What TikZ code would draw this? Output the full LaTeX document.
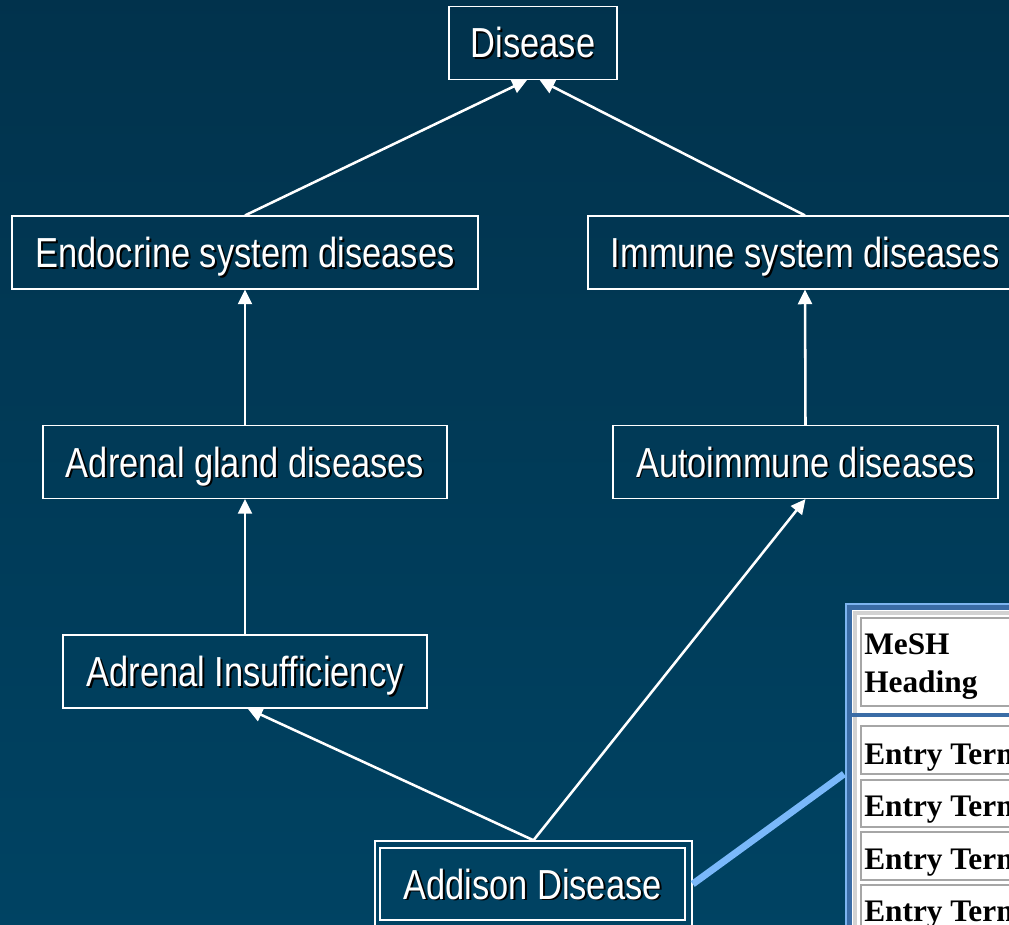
\documentclass[tikz,border=0pt]{standalone}
\usepackage{fontspec}
\usetikzlibrary{arrows.meta}
\newfontfamily\boxfont[FakeStretch=0.82]{Liberation Sans}
\newfontfamily\tblfont{Liberation Serif}
\definecolor{bgtop}{HTML}{012A41}
\definecolor{bgbot}{HTML}{004B6E}
\definecolor{linkblue}{HTML}{7AB8FA}
\definecolor{framemid}{HTML}{3A6CA6}
\definecolor{framelight}{HTML}{7CB4F0}
\definecolor{cellgray}{HTML}{A6A6A6}
\definecolor{tablegray}{HTML}{D2D2D2}
\pgfdeclareverticalshading{slidebg}{100bp}{color(0bp)=(bgbot); color(100bp)=(bgtop)}
% white label with a small black drop shadow behind it
\newcommand\dropshadow[1]{\leavevmode\rlap{\kern1.4pt\raisebox{-1.4pt}{\textcolor{black}{#1}}}#1}

\begin{document}
\begin{tikzpicture}[x=0.75pt,y=-0.75pt,
  topic/.style={draw=white, line width=1.1pt, text=white,
    font=\boxfont\fontsize{31.5}{36}\selectfont, inner sep=0pt,
    text height=22.5pt, text depth=0pt, minimum height=54.5pt},
  up/.style={draw=white, line width=1.9pt, -{Triangle[width=10.5pt,length=11pt]}},
  link/.style={draw=linkblue, line width=5.2pt},
  cell/.style={draw=cellgray, line width=1.5pt},
  entry/.style={anchor=base west, inner sep=0pt, text=black,
    font=\tblfont\bfseries\fontsize{23.5}{28}\selectfont}]

\useasboundingbox (0,0) rectangle (1009,924);
\clip (0,0) rectangle (1009,924);
\shade[shading=slidebg] (0,0) rectangle (1009,924);

% hierarchy boxes
\node[topic, minimum width=126pt]    (dis)  at (533,43)    {\dropshadow{Disease}};
\node[topic, minimum width=349.5pt]  (endo) at (245,252.5) {\dropshadow{Endocrine system diseases}};
\node[topic, minimum width=325.5pt]  (imm)  at (805,252.5) {\dropshadow{Immune system diseases}};
\node[topic, minimum width=303pt]    (agl)  at (245,462)   {\dropshadow{Adrenal gland diseases}};
\node[topic, minimum width=288.75pt] (aut)  at (805.5,462) {\dropshadow{Autoimmune diseases}};
\node[topic, minimum width=273pt]    (ains) at (245,671.5) {\dropshadow{Adrenal Insufficiency}};
\node[draw=white, line width=1.1pt, inner sep=0pt, minimum width=237.75pt,
      minimum height=64.5pt] (addo) at (533.5,884) {};
\node[topic, minimum width=228.75pt, minimum height=54pt] (add) at (532.5,884)
      {\dropshadow{Addison Disease}};

% is-a arrows
\draw[up] (endo.north) -- ([xshift=-4.5pt]dis.south);
\draw[up] (imm.north)  -- ([xshift=5pt]dis.south);
\draw[up] (agl.north)  -- (endo.south);
\draw[up] (aut.north)  -- (imm.south);
\draw[up] (ains.north) -- (agl.south);
\draw[up] (addo.north) -- ([xshift=2pt]ains.south);
\draw[up] (addo.north) -- (aut.south);

% record table
\node[draw=framemid, fill=white, line width=4.5pt, inner sep=0pt, anchor=north west,
      minimum width=150pt, minimum height=300pt] (tbl) at (846,604) {};
\draw[framelight, line width=1.5pt] (tbl.north west) rectangle (tbl.south east);
\draw[tablegray, line width=2.5pt] (855,613) rectangle (1040,1000);
\draw[cell] (861,618) rectangle (1040,706);
\draw[framemid, line width=2.5pt] (849,715) -- (1009,715);
\draw[cell] (861,726) rectangle (1040,774);
\draw[cell] (861,780) rectangle (1040,827);
\draw[cell] (861,832) rectangle (1040,880);
\draw[cell] (861,885) rectangle (1040,935);
\node[entry] (mesh)    at (864,654)   {MeSH};
\node[entry] (heading) at (864,692)   {Heading};
\node[entry] (e1)      at (864,764)   {Entry Term};
\node[entry] (e2)      at (864,816.5) {Entry Term};
\node[entry] (e3)      at (864,869)   {Entry Term};
\node[entry] (e4)      at (864,921)   {Entry Term};

% link from the concept to its record
\coordinate (tblport) at (844,774);
\draw[link] (addo.east) -- (tblport);
\end{tikzpicture}
\end{document}
